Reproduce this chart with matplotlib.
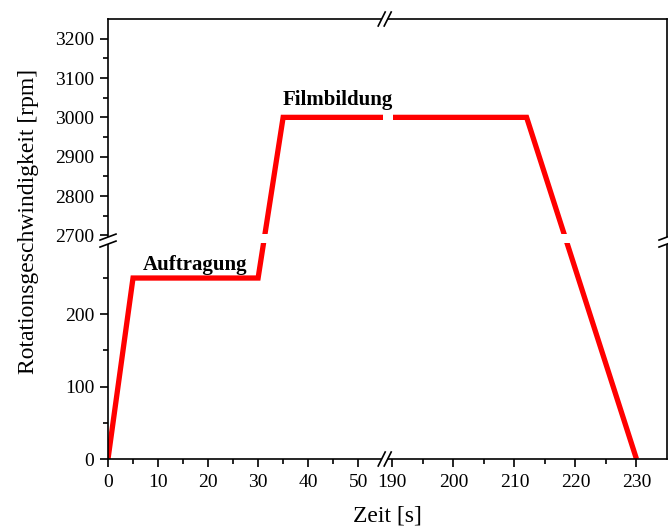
import numpy as np
import matplotlib
matplotlib.use("Agg")
import matplotlib.pyplot as plt
from matplotlib.lines import Line2D
from matplotlib.patches import Polygon
from matplotlib.transforms import IdentityTransform

plt.rcParams["font.family"] = ["Liberation Serif", "DejaVu Serif"]

# spin-coating programme: time [s] and rotation speed [rpm]
time_s = [0, 5, 30, 35, 212, 230]
speed_rpm = [0, 250, 250, 3000, 3000, 0]

x_major = [0, 10, 20, 30, 40, 50, 190, 200, 210, 220, 230]
x_minor = [5, 15, 25, 35, 45, 195, 205, 215, 225]
y_major = [0, 100, 200, 2700, 2800, 2900, 3000, 3100, 3200]
y_minor = [50, 150, 250, 2750, 2850, 2950, 3050, 3150]

phase_labels = ["Auftragung", "Filmbildung"]
phase_pos = [(17.5, 268), (46, 3045)]

# broken axes: piecewise linear scales (data -> pixel-like units)
x_knots = [0, 55, 189, 235]
x_units = [0, 275, 278, 558.6]
y_knots = [0, 300, 2690, 3250]
y_units = [0, 216.9, 219.4, 439.45]


def piecewise(xp, fp):
    xp = np.asarray(xp, float)
    fp = np.asarray(fp, float)

    def f(v):
        v = np.asarray(v, float)
        out = np.interp(v, xp, fp)
        lo_slope = (fp[1] - fp[0]) / (xp[1] - xp[0])
        hi_slope = (fp[-1] - fp[-2]) / (xp[-1] - xp[-2])
        out = np.where(v < xp[0], fp[0] + (v - xp[0]) * lo_slope, out)
        out = np.where(v > xp[-1], fp[-1] + (v - xp[-1]) * hi_slope, out)
        return out
    return f


W, H = 668, 530
fig = plt.figure(figsize=(W / 100, H / 100), dpi=100)
ax = fig.add_axes([108 / W, (H - 459) / H, 559 / W, 440 / H])

ax.set_xscale("function", functions=(piecewise(x_knots, x_units), piecewise(x_units, x_knots)))
ax.set_yscale("function", functions=(piecewise(y_knots, y_units), piecewise(y_units, y_knots)))
ax.set_xlim(0, 235)
ax.set_ylim(0, 3250)

ax.plot(time_s, speed_rpm, color="#ff0000", lw=3.8, solid_joinstyle="miter",
        solid_capstyle="butt", zorder=2)

# gaps in the curve where it crosses the axis breaks
ax.axvspan(54.9, 190.1, color="white", lw=0, zorder=2.2)
ax.axhspan(298, 2704, color="white", lw=0, zorder=2.2)

for txt, (tx, ty) in zip(phase_labels, phase_pos):
    ax.text(tx, ty, txt, ha="center", va="center", fontsize=15,
            fontweight="bold", zorder=4)

ax.set_xticks(x_major)
ax.set_xticks(x_minor, minor=True)
ax.set_yticks(y_major)
ax.set_yticks(y_minor, minor=True)
ax.set_xticklabels([str(v) for v in x_major])
ax.set_yticklabels([str(v) for v in y_major])
ax.tick_params(which="both", direction="out", width=1.2, labelsize=14,
               top=False, right=False)
ax.tick_params(which="major", length=6, pad=4)
ax.tick_params(axis="x", which="major", pad=5)
ax.tick_params(which="minor", length=3.3)
for sp in ax.spines.values():
    sp.set_linewidth(1.2)

ax.set_xlabel("Zeit [s]", fontsize=17)
ax.set_ylabel("Rotationsgeschwindigkeit [rpm]", fontsize=17)
ax.xaxis.set_label_coords(0.5, -0.105)
ax.yaxis.set_label_coords(-0.124, 0.541)

# break symbols on the spines
x_break = 0.5 * (x_knots[1] + x_knots[2])
y_break = 0.5 * (y_knots[1] + y_knots[2])
bx, by = ax.transData.transform((x_break, y_break))
x0, y0 = ax.transAxes.transform((0, 0))
x1, y1 = ax.transAxes.transform((1, 1))


def break_mark(p1a, p1b, p2a, p2b):
    ax.add_patch(Polygon([p1a, p1b, p2b, p2a], closed=True, facecolor="white",
                         edgecolor="none", transform=IdentityTransform(),
                         clip_on=False, zorder=5))
    for a, b in ((p1a, p1b), (p2a, p2b)):
        ax.add_line(Line2D([a[0], b[0]], [a[1], b[1]], color="black", lw=1.2,
                           transform=IdentityTransform(), clip_on=False, zorder=6))


for sy in (y0, y1):
    s1, s2 = bx - 3, bx + 3
    break_mark((s1 - 3.5, sy - 7), (s1 + 3.5, sy + 7),
               (s2 - 3.5, sy - 7), (s2 + 3.5, sy + 7))
for sx in (x0, x1):
    s1, s2 = by - 3.5, by + 3.5
    break_mark((sx - 8, s1 - 3), (sx + 8, s1 + 3),
               (sx - 8, s2 - 3), (sx + 8, s2 + 3))

fig.savefig("out.png", dpi=100)
